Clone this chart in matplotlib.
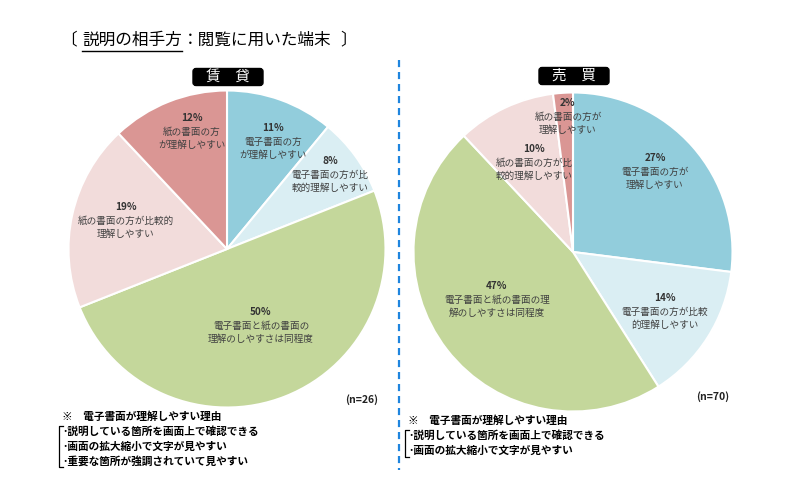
import matplotlib.pyplot as plt
from matplotlib.patches import FancyBboxPatch

plt.rcParams['font.family'] = ['Noto Sans CJK JP', 'DejaVu Sans']

# slice order: clockwise from 12 o'clock
CATEGORIES = [
    "電子書面の方が理解しやすい",
    "電子書面の方が比較的理解しやすい",
    "電子書面と紙の書面の理解のしやすさは同程度",
    "紙の書面の方が比較的理解しやすい",
    "紙の書面の方が理解しやすい",
]
COLORS = ["#92CDDC", "#DAEEF3", "#C4D79B", "#F2DCDB", "#DA9694"]

RENT_VALUES = [11, 8, 50, 19, 12]
SALE_VALUES = [27, 14, 47, 10, 2]
RENT_N = 26
SALE_N = 70

RENT_LABELS = [
    ["電子書面の方", "が理解しやすい"],
    ["電子書面の方が比", "較的理解しやすい"],
    ["電子書面と紙の書面の", "理解のしやすさは同程度"],
    ["紙の書面の方が比較的", "理解しやすい"],
    ["紙の書面の方", "が理解しやすい"],
]
SALE_LABELS = [
    ["電子書面の方が", "理解しやすい"],
    ["電子書面の方が比較", "的理解しやすい"],
    ["電子書面と紙の書面の理", "解のしやすさは同程度"],
    ["紙の書面の方が比", "較的理解しやすい"],
    ["紙の書面の方が", "理解しやすい"],
]

RENT_REASONS = [
    "･説明している箇所を画面上で確認できる",
    "･画面の拡大縮小で文字が見やすい",
    "･重要な箇所が強調されていて見やすい",
]
SALE_REASONS = [
    "･説明している箇所を画面上で確認できる",
    "･画面の拡大縮小で文字が見やすい",
]

TEXT = "#404040"

fig = plt.figure(figsize=(8, 5), dpi=100)
ax = fig.add_axes([0, 0, 1, 1])


def Y(y):
    # image pixel row -> data y
    return 500 - y


def draw_pie(values, labels, center, radius, label_pos, n, n_pos):
    ax.pie(values, colors=COLORS, startangle=90, counterclock=False,
           center=(center[0], Y(center[1])), radius=radius,
           wedgeprops=dict(edgecolor="white", linewidth=1.5))
    for v, lines, (x, y) in zip(values, labels, label_pos):
        ax.text(x, Y(y), f"{v}%", ha="center", va="center", fontsize=7.2,
                fontweight="bold", color="#333333")
        for i, line in enumerate(lines):
            ax.text(x, Y(y + 14 + 13 * i), line, ha="center", va="center",
                    fontsize=6.9, color=TEXT)
    ax.text(n_pos[0], Y(n_pos[1]), f"(n={n})", ha="center", va="center",
            fontsize=7.5, fontweight="bold", color="#222222")


draw_pie(RENT_VALUES, RENT_LABELS, (227, 249), 158.5,
         [(273, 128), (330, 161), (261, 312), (126, 207), (192, 118)],
         RENT_N, (362, 400))
draw_pie(SALE_VALUES, SALE_LABELS, (573, 252), 159.5,
         [(655, 158), (665, 298), (497, 286), (534, 149), (568, 103)],
         SALE_N, (713, 397))


def header_box(cx, cy, text):
    w, h = 70, 17
    ax.add_patch(FancyBboxPatch((cx - w / 2, Y(cy) - h / 2), w, h,
                                boxstyle="round,pad=0,rounding_size=3",
                                facecolor="black", edgecolor="black"))
    ax.text(cx, Y(cy), text, ha="center", va="center", fontsize=10.5,
            color="white")


header_box(228, 77, "賃　貸")
header_box(574, 76, "売　買")

# title
ax.text(60, Y(40), "〔", ha="left", va="center", fontsize=12, color="black")
ax.text(82, Y(40), "説明の相手方", ha="left", va="center", fontsize=12,
        color="black")
ax.plot([82, 182], [Y(51), Y(51)], color="black", lw=1)
ax.text(182, Y(40), "：閲覧に用いた端末", ha="left", va="center",
        fontsize=12, color="black")
ax.text(340, Y(40), "〕", ha="left", va="center", fontsize=12, color="black")

# divider
ax.plot([399, 399], [Y(60), Y(470)], color="#1F85DE", lw=1.6,
        linestyle=(0, (3.2, 2.2)))


def reasons(x, y, items):
    ax.text(x, Y(y), "※　電子書面が理解しやすい理由", ha="left", va="center",
            fontsize=7.7, fontweight="bold", color="black")
    for i, item in enumerate(items):
        ax.text(x, Y(y + 15 + 14.5 * i), item, ha="left", va="center",
                fontsize=7.7, fontweight="bold", color="black")
    top = y + 9
    bottom = y + 15 + 14.5 * (len(items) - 1) + 6
    bx = x - 3
    ax.plot([bx + 4, bx, bx, bx + 4], [Y(top), Y(top), Y(bottom), Y(bottom)],
            color="black", lw=0.9)


reasons(62, 417, RENT_REASONS)
reasons(408, 421, SALE_REASONS)

ax.set_xlim(0, 800)
ax.set_ylim(0, 500)
ax.set_aspect("equal")
ax.axis("off")

fig.savefig("out.png", dpi=100, facecolor="white")
